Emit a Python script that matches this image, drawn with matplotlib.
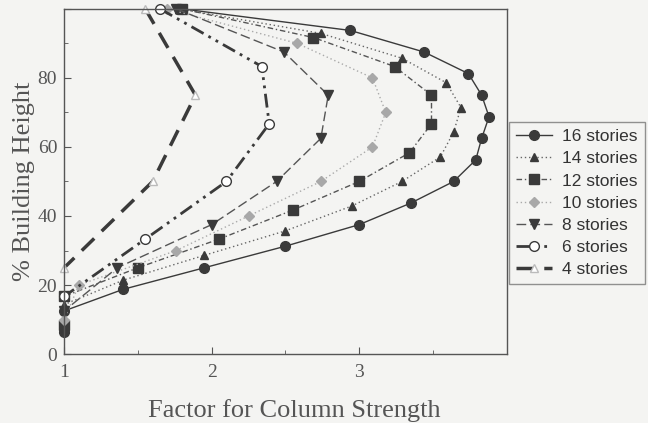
import matplotlib
matplotlib.use('Agg')
import matplotlib.pyplot as plt
from matplotlib.ticker import MultipleLocator

# factor for column strength (x) at each % building height (y), top down
h16 = [100, 93.75, 87.5, 81.25, 75, 68.75, 62.5, 56.25, 50, 43.75, 37.5, 31.25, 25, 18.75, 12.5, 6.25]
f16 = [1.80, 2.94, 3.44, 3.74, 3.83, 3.88, 3.83, 3.79, 3.64, 3.35, 3.00, 2.50, 1.95, 1.40, 1.00, 1.00]

h14 = [100, 92.9, 85.7, 78.6, 71.4, 64.3, 57.1, 50, 42.9, 35.7, 28.6, 21.4, 14.3, 7.1]
f14 = [1.78, 2.74, 3.29, 3.59, 3.69, 3.64, 3.55, 3.29, 2.95, 2.50, 1.95, 1.40, 1.00, 1.00]

h12 = [100, 91.7, 83.3, 75, 66.7, 58.3, 50, 41.7, 33.3, 25, 16.7, 8.3]
f12 = [1.80, 2.69, 3.24, 3.49, 3.49, 3.34, 3.00, 2.55, 2.05, 1.50, 1.00, 1.00]

h10 = [100, 90, 80, 70, 60, 50, 40, 30, 20, 10]
f10 = [1.70, 2.58, 3.09, 3.18, 3.09, 2.74, 2.25, 1.76, 1.10, 1.00]

h8 = [100, 87.5, 75, 62.5, 50, 37.5, 25, 12.5]
f8 = [1.76, 2.49, 2.79, 2.74, 2.44, 2.00, 1.36, 1.00]

h6 = [100, 83.3, 66.7, 50, 33.3, 16.7]
f6 = [1.65, 2.34, 2.39, 2.10, 1.55, 1.00]

h4 = [100, 75, 50, 25]
f4 = [1.55, 1.89, 1.60, 1.00]

labels = ['16 stories', '14 stories', '12 stories', '10 stories', '8 stories', '6 stories', '4 stories']
yticks = [0, 20, 40, 60, 80, 100]
yticklabels = ['0', '20', '40', '60', '80', '']

bg = '#f4f4f2'
dark = '#3a3a3a'

fig = plt.figure(figsize=(6.48, 4.23), dpi=100, facecolor=bg)
ax = fig.add_axes([0.099, 0.163, 0.683, 0.816], facecolor=bg)

ax.plot(f16, h16, color=dark, lw=1.0, ls='-', marker='o', ms=7, mfc=dark, mec=dark, clip_on=False, label=labels[0])
ax.plot(f14, h14, color='#666666', lw=1.0, ls=(0, (1, 2)), marker='^', ms=6, mfc=dark, mec=dark, clip_on=False, label=labels[1])
ax.plot(f12, h12, color='#555555', lw=1.0, ls=(0, (4, 2, 1, 2)), marker='s', ms=7, mfc=dark, mec=dark, clip_on=False, label=labels[2])
ax.plot(f10, h10, color='#aaaaaa', lw=1.0, ls=(0, (1, 2)), marker='D', ms=5, mfc='#a8a8a8', mec='#a8a8a8', clip_on=False, label=labels[3])
ax.plot(f8, h8, color='#555555', lw=1.0, ls=(0, (7, 3)), marker='v', ms=7, mfc=dark, mec=dark, clip_on=False, label=labels[4])
ax.plot(f6, h6, color=dark, lw=2.0, ls=(0, (5, 2, 1, 2, 1, 2)), marker='o', ms=7, mfc='white', mec=dark, mew=1.0, clip_on=False, label=labels[5])
ax.plot(f4, h4, color=dark, lw=2.5, ls=(0, (5, 3)), marker='^', ms=6, mfc='white', mec='#bbbbbb', mew=1.0, clip_on=False, label=labels[6])

ax.set_xlim(1, 4)
ax.set_ylim(0, 100)
ax.xaxis.set_minor_locator(MultipleLocator(0.5))
ax.yaxis.set_minor_locator(MultipleLocator(10))
ax.set_xticks([1, 2, 3])
ax.set_xticklabels(['1', '2', '3'])
ax.set_yticks(yticks)
ax.set_yticklabels(yticklabels)
ax.tick_params(which='both', direction='in', color='#555555', labelcolor='#555555',
               labelsize=14, labelfontfamily='Liberation Serif')
ax.tick_params(which='major', length=5)
ax.tick_params(which='minor', length=3)
ax.tick_params(axis='x', pad=7)
ax.tick_params(axis='y', pad=5)
for s in ax.spines.values():
    s.set_color('#555555')
    s.set_linewidth(1.0)

ax.set_xlabel('Factor for Column Strength', family='Liberation Serif', fontsize=19, color='#555555', labelpad=12)
ax.xaxis.set_label_coords(0.52, -0.13)
ax.set_ylabel('% Building Height', family='Liberation Serif', fontsize=19, color='#555555')
ax.yaxis.set_label_coords(-0.066, 0.5)

leg = fig.legend(loc='center left', bbox_to_anchor=(0.785, 0.52), frameon=True, fancybox=False,
                 prop={'family': 'Liberation Sans', 'size': 12.5}, labelspacing=0.4,
                 handlelength=2.1, borderpad=0.4, handletextpad=0.6, borderaxespad=0)
leg.get_frame().set_edgecolor('#777777')
leg.get_frame().set_facecolor(bg)
for t in leg.get_texts():
    t.set_color('#333333')

fig.savefig('out.png', dpi=100, facecolor=bg)
